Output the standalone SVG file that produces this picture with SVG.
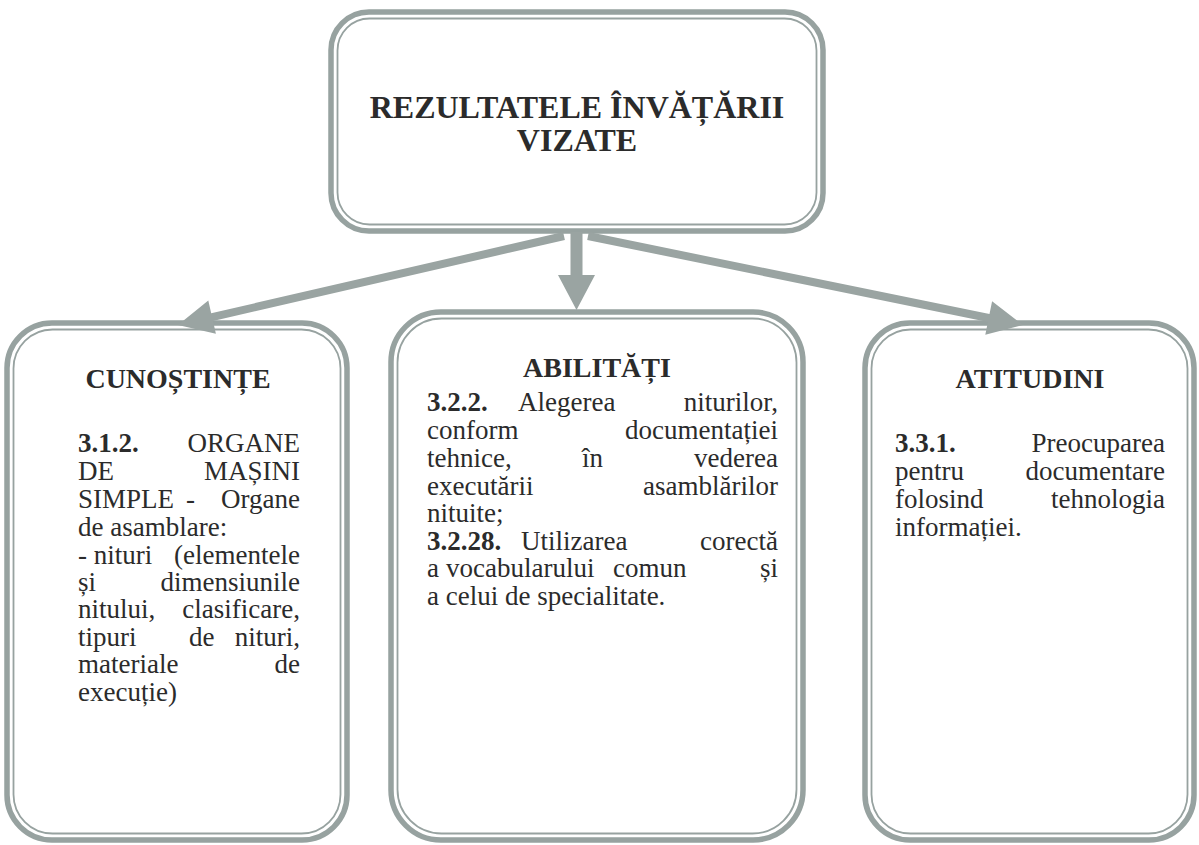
<svg xmlns="http://www.w3.org/2000/svg" width="1199" height="845" viewBox="0 0 1199 845">
<style>
.outer{fill:#fff;stroke:#97a2a0;stroke-width:5.5}
.inner{fill:none;stroke:#97a2a0;stroke-width:1.8}
.arrow{fill:#9aa4a2;stroke:none}
text{font-family:"Liberation Serif","Times New Roman",serif;fill:#2b2b2b;font-size:27px}
.h{font-weight:bold;font-size:28px;text-anchor:middle}
.t{font-weight:bold;font-size:32px;text-anchor:middle}
.b{font-weight:bold}
.e{text-anchor:end}
</style>
<rect width="1199" height="845" fill="#fff"/>
<g id="node-top">
<rect class="outer" x="331" y="12" width="492" height="219" rx="38"/>
<rect class="inner" x="337.5" y="18.5" width="479" height="206" rx="32"/>
<text class="t" x="577" y="118">REZULTATELE ÎNVĂȚĂRII</text>
<text class="t" x="577" y="151">VIZATE</text>
</g>
<g id="node-cunostinte">
<rect class="outer" x="7" y="323" width="340" height="517" rx="45"/>
<rect class="inner" x="13.5" y="329.5" width="327" height="504" rx="39"/>
<text class="h" x="178" y="388">CUNOȘTINȚE</text>
<text x="78" y="452" class="b">3.1.2.</text><text class="e" x="300" y="452">ORGANE</text>
<text x="78" y="480">DE</text><text class="e" x="300" y="480">MAȘINI</text>
<text x="78" y="508">SIMPLE</text><text x="186" y="508">-</text><text class="e" x="300" y="508">Organe</text>
<text x="78" y="536">de asamblare:</text>
<text x="78" y="564">- nituri</text><text class="e" x="300" y="564">(elementele</text>
<text x="78" y="591">și</text><text class="e" x="300" y="591">dimensiunile</text>
<text x="78" y="618">nitului,</text><text class="e" x="300" y="618">clasificare,</text>
<text x="78" y="646">tipuri</text><text x="189" y="646">de</text><text class="e" x="300" y="646">nituri,</text>
<text x="78" y="673">materiale</text><text class="e" x="300" y="673">de</text>
<text x="78" y="701">execuție)</text>
</g>
<g id="node-abilitati">
<rect class="outer" x="391" y="312" width="412" height="528" rx="50"/>
<rect class="inner" x="397.5" y="318.5" width="399" height="515" rx="44"/>
<text class="h" x="597" y="377">ABILITĂȚI</text>
<text x="427" y="411" class="b">3.2.2.</text><text x="518" y="411">Alegerea</text><text class="e" x="778" y="411">niturilor,</text>
<text x="427" y="439">conform</text><text class="e" x="778" y="439">documentației</text>
<text x="427" y="467">tehnice,</text><text x="582" y="467">în</text><text class="e" x="778" y="467">vederea</text>
<text x="427" y="495">executării</text><text class="e" x="778" y="495">asamblărilor</text>
<text x="427" y="522">nituite;</text>
<text x="427" y="550" class="b">3.2.28.</text><text x="521" y="550">Utilizarea</text><text class="e" x="778" y="550">corectă</text>
<text x="427" y="577">a</text><text x="446" y="577">vocabularului</text><text x="613" y="577">comun</text><text class="e" x="778" y="577">și</text>
<text x="427" y="605">a celui de specialitate.</text>
</g>
<g id="node-atitudini">
<rect class="outer" x="865" y="323" width="329" height="517" rx="45"/>
<rect class="inner" x="871.5" y="329.5" width="316" height="504" rx="39"/>
<text class="h" x="1030" y="388">ATITUDINI</text>
<text x="895" y="452" class="b">3.3.1.</text><text class="e" x="1165" y="452">Preocuparea</text>
<text x="895" y="480">pentru</text><text class="e" x="1165" y="480">documentare</text>
<text x="895" y="508">folosind</text><text class="e" x="1165" y="508">tehnologia</text>
<text x="895" y="536">informației.</text>
</g>
<g id="connectors">
<polygon class="arrow" points="563.1,232.1 211.2,313.2 208.3,300.5 178,325 215.9,333.7 213.0,321.0 564.9,239.9"/>
<polygon class="arrow" points="588.8,232.1 989.5,314.1 992.1,301.3 1023,325 985.3,334.7 987.9,321.9 587.2,239.9"/>
<polygon class="arrow" points="570.5,232 582.5,232 582.5,275 595,275 576.5,310 558,275 570.5,275"/>
</g>
</svg>
